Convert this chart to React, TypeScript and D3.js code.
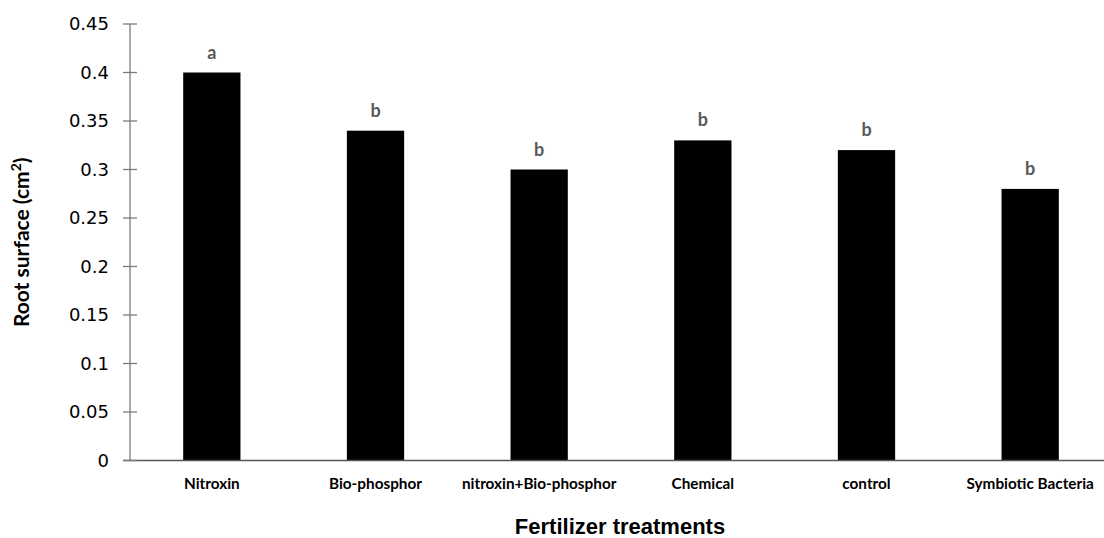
import React from "react";
import * as d3 from "d3";

const categories = ["Nitroxin", "Bio-phosphor", "nitroxin+Bio-phosphor", "Chemical", "control", "Symbiotic Bacteria"];
const values = [0.4, 0.34, 0.3, 0.33, 0.32, 0.28];
const letters = ["a", "b", "b", "b", "b", "b"];
const yTicks = [0, 0.05, 0.1, 0.15, 0.2, 0.25, 0.3, 0.35, 0.4, 0.45];

const W = 1104;
const H = 538;
const left = 130;
const right = 1112;
const top = 24;
const bottom = 460.5;

export default function App() {
  const x = d3.scaleBand<string>().domain(categories).range([left, right]).padding(0);
  const y = d3.scaleLinear().domain([0, 0.45]).range([bottom, top]);
  const bw = x.bandwidth() * 0.35;
  const axisColor = "#7a7a7a";
  return (
    <svg width={W} height={H} style={{ position: "absolute", left: 0, top: 0, background: "#fff" }}>
      {categories.map((c, i) => {
        const cx = (x(c) as number) + x.bandwidth() / 2;
        return (
          <g key={c}>
            <rect x={cx - bw / 2} y={y(values[i])} width={bw} height={bottom - y(values[i])} fill="#000" />
            <text x={cx} y={y(values[i]) - 14} textAnchor="middle" fontFamily="Lato" fontWeight="bold" fontSize={18} fill="#595959">
              {letters[i]}
            </text>
            <text x={cx} y={489} textAnchor="middle" fontFamily="Lato" fontWeight="bold" fontSize={15.3} fill="#000">
              {c}
            </text>
          </g>
        );
      })}
      <line x1={left} x2={left} y1={top} y2={bottom} stroke={axisColor} strokeWidth={1.3} />
      <line x1={left - 7} x2={right} y1={bottom} y2={bottom} stroke="#555" strokeWidth={1.3} />
      {yTicks.map((t) => (
        <g key={t}>
          <line x1={left - 7} x2={left + 7} y1={y(t)} y2={y(t)} stroke={axisColor} strokeWidth={1.3} />
          <text x={109} y={y(t)} dy="0.36em" textAnchor="end" fontFamily="DejaVu Sans" fontSize={18} fill="#000">
            {String(t)}
          </text>
        </g>
      ))}
      <text
        transform={`translate(29, ${(top + bottom) / 2}) rotate(-90)`}
        textAnchor="middle"
        fontFamily="Lato"
        fontWeight="bold"
        fontSize={21}
        fill="#000"
      >
        Root surface (cm<tspan baselineShift="super" fontSize={14}>2</tspan>)
      </text>
      <text x={620} y={534} textAnchor="middle" fontFamily="Liberation Sans" fontWeight="bold" fontSize={22} fill="#000">
        Fertilizer treatments
      </text>
    </svg>
  );
}
